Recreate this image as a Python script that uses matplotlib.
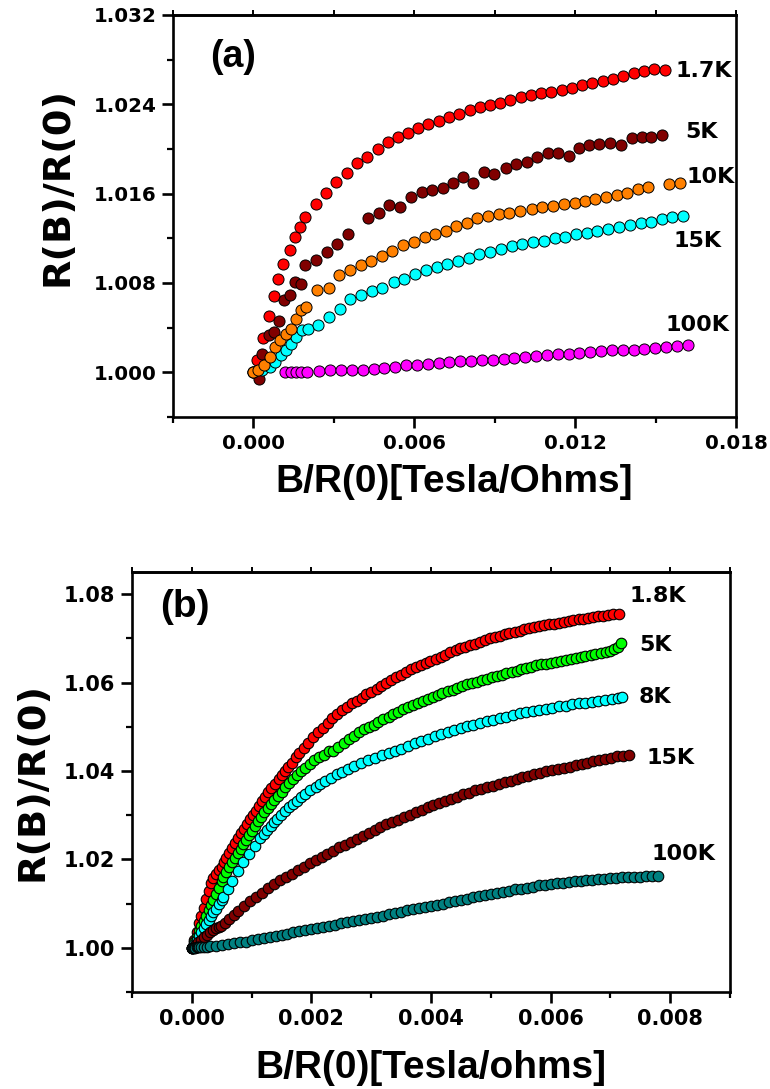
import matplotlib
matplotlib.use("Agg")
import matplotlib.pyplot as plt
from matplotlib.ticker import MultipleLocator, FixedLocator

plt.rcParams['font.family'] = ['Liberation Sans', 'DejaVu Sans']
plt.rcParams['font.weight'] = 'bold'
WIDE = ['DejaVu Sans']          # broad face used for numbers and the vertical titles
NARROW = ['Liberation Sans']    # Arial-like face for horizontal titles

# ---------------- panel (a): R(B)/R(0) vs B/R(0) ----------------
a_1p7K = [(0.0, 1.0000), (0.000136, 1.00108), (0.000364, 1.00311), (0.000564, 1.00502),
          (0.000749, 1.00682), (0.000934, 1.00837), (0.001106, 1.00969), (0.001362, 1.01100),
          (0.001533, 1.01208), (0.001747, 1.01298), (0.001905, 1.01387), (0.002318, 1.01507),
          (0.002703, 1.01608), (0.003074, 1.01707), (0.003473, 1.01788), (0.003858, 1.01871),
          (0.004243, 1.01931), (0.004628, 1.02003), (0.005028, 1.02066), (0.005399, 1.02111),
          (0.005784, 1.02147), (0.006140, 1.02191), (0.006525, 1.02224), (0.006910, 1.02254),
          (0.007295, 1.02290), (0.007680, 1.02314), (0.008065, 1.02350), (0.008436, 1.02374),
          (0.008807, 1.02395), (0.009206, 1.02416), (0.009577, 1.02440), (0.009962, 1.02463),
          (0.010347, 1.02484), (0.010732, 1.02499), (0.011117, 1.02514), (0.011502, 1.02529),
          (0.011873, 1.02550), (0.012258, 1.02574), (0.012629, 1.02595), (0.013029, 1.02613),
          (0.013414, 1.02631), (0.013799, 1.02655), (0.014184, 1.02679), (0.014555, 1.02700),
          (0.014940, 1.02715), (0.015339, 1.02709)]

a_5K = [(0.000222, 0.99943), (0.000322, 1.00161), (0.000578, 1.00332), (0.000749, 1.00362),
        (0.000963, 1.00460), (0.001134, 1.00652), (0.001362, 1.00691), (0.001533, 1.00810),
        (0.001790, 1.00789), (0.001933, 1.00960), (0.002318, 1.01005), (0.002746, 1.01079),
        (0.003131, 1.01148), (0.003530, 1.01238), (0.004286, 1.01378), (0.004671, 1.01423),
        (0.005070, 1.01498), (0.005484, 1.01483), (0.005883, 1.01572), (0.006283, 1.01617),
        (0.006668, 1.01632), (0.007053, 1.01647), (0.007438, 1.01698), (0.007809, 1.01752),
        (0.008208, 1.01692), (0.008593, 1.01794), (0.008978, 1.01776), (0.009406, 1.01833),
        (0.009806, 1.01865), (0.010191, 1.01886), (0.010590, 1.01931), (0.010989, 1.01967),
        (0.011374, 1.01961), (0.011759, 1.01937), (0.012130, 1.02006), (0.012515, 1.02033),
        (0.012900, 1.02045), (0.013300, 1.02057), (0.013728, 1.02036), (0.014113, 1.02102),
        (0.014483, 1.02105), (0.014840, 1.02111), (0.015225, 1.02126)]

a_10K = [(0.0, 1.0000), (0.000178, 1.00024), (0.000392, 1.00063), (0.000606, 1.00137),
         (0.000792, 1.00227), (0.000991, 1.00293), (0.001219, 1.00347), (0.001419, 1.00392),
         (0.001604, 1.00481), (0.001790, 1.00556), (0.001961, 1.00586), (0.002389, 1.00735),
         (0.002817, 1.00759), (0.003174, 1.00870), (0.003602, 1.00915), (0.004001, 1.00960),
         (0.004386, 1.00999), (0.004785, 1.01040), (0.005170, 1.01088), (0.005570, 1.01139),
         (0.005983, 1.01169), (0.006383, 1.01208), (0.006768, 1.01238), (0.007167, 1.01268),
         (0.007566, 1.01310), (0.007951, 1.01339), (0.008351, 1.01380), (0.008751, 1.01399),
         (0.009150, 1.01414), (0.009549, 1.01429), (0.009948, 1.01447), (0.010376, 1.01462),
         (0.010775, 1.01477), (0.011189, 1.01489), (0.011588, 1.01504), (0.011988, 1.01519),
         (0.012373, 1.01536), (0.012758, 1.01548), (0.013157, 1.01566), (0.013556, 1.01587),
         (0.013941, 1.01608), (0.014326, 1.01638), (0.014726, 1.01656), (0.015510, 1.01686),
         (0.015909, 1.01692)]

a_15K = [(0.0, 1.0000), (0.000321, 1.00018), (0.000606, 1.00048), (0.000820, 1.00093),
         (0.001034, 1.00152), (0.001220, 1.00197), (0.001419, 1.00257), (0.001605, 1.00317),
         (0.001819, 1.00377), (0.002033, 1.00392), (0.002418, 1.00422), (0.002817, 1.00496),
         (0.003216, 1.00571), (0.003601, 1.00655), (0.004029, 1.00691), (0.004428, 1.00729),
         (0.004814, 1.00759), (0.005242, 1.00810), (0.005627, 1.00840), (0.006026, 1.00879),
         (0.006426, 1.00915), (0.006839, 1.00945), (0.007238, 1.00969), (0.007638, 1.00996),
         (0.008023, 1.01028), (0.008422, 1.01058), (0.008807, 1.01079), (0.009235, 1.01103),
         (0.009634, 1.01130), (0.010019, 1.01148), (0.010419, 1.01166), (0.010832, 1.01178),
         (0.011232, 1.01199), (0.011631, 1.01214), (0.012045, 1.01235), (0.012444, 1.01250),
         (0.012829, 1.01265), (0.013228, 1.01283), (0.013627, 1.01304), (0.014041, 1.01319),
         (0.014440, 1.01333), (0.014825, 1.01348), (0.015225, 1.01369), (0.015624, 1.01387),
         (0.016009, 1.01399)]

a_100K = [(0.001177, 1.00000), (0.001391, 1.00000), (0.001605, 1.00000), (0.001790, 1.00000),
          (0.001990, 1.00003), (0.002432, 1.00012), (0.002860, 1.00018), (0.003273, 1.00018),
          (0.003673, 1.00024), (0.004072, 1.00024), (0.004485, 1.00033), (0.004885, 1.00042),
          (0.005284, 1.00048), (0.005698, 1.00063), (0.006097, 1.00069), (0.006496, 1.00078),
          (0.006910, 1.00084), (0.007309, 1.00093), (0.007709, 1.00099), (0.008122, 1.00099),
          (0.008522, 1.00108), (0.008921, 1.00114), (0.009335, 1.00123), (0.009734, 1.00129),
          (0.010133, 1.00137), (0.010547, 1.00143), (0.010946, 1.00152), (0.011346, 1.00161),
          (0.011759, 1.00167), (0.012158, 1.00173), (0.012558, 1.00182), (0.012971, 1.00188),
          (0.013371, 1.00197), (0.013770, 1.00203), (0.014184, 1.00203), (0.014583, 1.00212),
          (0.014982, 1.00221), (0.015396, 1.00227), (0.015795, 1.00233), (0.016195, 1.00242)]

a_series = [  # (label, data, face colour)
    ("1.7K", a_1p7K, "#FF0000"),
    ("5K", a_5K, "#800000"),
    ("15K", a_15K, "#00FFFF"),
    ("10K", a_10K, "#FF8000"),
    ("100K", a_100K, "#FF00FF"),
]
a_label_pos = {"1.7K": (0.01681, 1.02702), "5K": (0.01671, 1.02155), "10K": (0.01704, 1.01752),
               "15K": (0.01658, 1.01178), "100K": (0.01657, 1.00422)}

# ---------------- panel (b) ----------------
b_1p8K = [(0, 1.0), (0.00004, 1.0018), (0.00008, 1.0036), (0.00012, 1.0055), (0.00016, 1.0073),
          (0.0002, 1.0091), (0.00024, 1.011), (0.00028, 1.0128), (0.00032, 1.0146), (0.00036, 1.0158),
          (0.0004, 1.0168), (0.00045, 1.0175), (0.0005, 1.0182), (0.00054, 1.0193), (0.00058, 1.0203),
          (0.00063, 1.0214), (0.00068, 1.0225), (0.00073, 1.0237), (0.00078, 1.0248), (0.00083, 1.0259),
          (0.00088, 1.0269), (0.00093, 1.028), (0.00098, 1.0291), (0.00103, 1.0301), (0.00108, 1.031),
          (0.00113, 1.0321), (0.00118, 1.0331), (0.00123, 1.0342), (0.00128, 1.0352), (0.00133, 1.0361),
          (0.00139, 1.0371), (0.00145, 1.0381), (0.00151, 1.039), (0.00156, 1.0399), (0.00161, 1.0408),
          (0.00167, 1.0419), (0.00174, 1.0431), (0.0018, 1.044), (0.00187, 1.0452), (0.00195, 1.0464),
          (0.00203, 1.0476), (0.00211, 1.0487), (0.00219, 1.0498), (0.00227, 1.0509), (0.00235, 1.0519),
          (0.00243, 1.0529), (0.00251, 1.0537), (0.00259, 1.0545), (0.00268, 1.0553), (0.00276, 1.0559),
          (0.00284, 1.0566), (0.00292, 1.0573), (0.003, 1.0579), (0.00309, 1.0586), (0.00317, 1.0592),
          (0.00325, 1.0599), (0.00333, 1.0606), (0.00342, 1.0612), (0.0035, 1.0618), (0.00358, 1.0624),
          (0.00366, 1.063), (0.00375, 1.0635), (0.00383, 1.064), (0.00391, 1.0644), (0.00399, 1.0649),
          (0.00408, 1.0654), (0.00416, 1.0658), (0.00424, 1.0663), (0.00432, 1.0668), (0.00441, 1.0673),
          (0.00449, 1.0677), (0.00457, 1.0681), (0.00465, 1.0685), (0.00474, 1.0688), (0.00482, 1.0692),
          (0.0049, 1.0696), (0.00498, 1.07), (0.00507, 1.0703), (0.00515, 1.0706), (0.00523, 1.0709),
          (0.00531, 1.0712), (0.0054, 1.0714), (0.00548, 1.0717), (0.00556, 1.072), (0.00564, 1.0723),
          (0.00573, 1.0726), (0.00581, 1.0728), (0.00589, 1.073), (0.00597, 1.0732), (0.00606, 1.0733),
          (0.00614, 1.0735), (0.00622, 1.0737), (0.0063, 1.0739), (0.00638, 1.0741), (0.00647, 1.0743),
          (0.00655, 1.0744), (0.00663, 1.0746), (0.00671, 1.0748), (0.0068, 1.075), (0.00688, 1.0751),
          (0.00696, 1.0753), (0.00704, 1.0754), (0.00714, 1.0756)]

b_5K = [(0, 1.0), (0.00004, 1.0012), (0.00008, 1.0025), (0.00012, 1.0037), (0.00016, 1.0049),
        (0.0002, 1.0061), (0.00024, 1.0073), (0.00028, 1.0085), (0.00032, 1.0097), (0.00036, 1.0109),
        (0.0004, 1.0121), (0.00045, 1.0136), (0.0005, 1.015), (0.00053, 1.0161), (0.00058, 1.0172),
        (0.00062, 1.0182), (0.00067, 1.0193), (0.00072, 1.0203), (0.00077, 1.0214), (0.00082, 1.0223),
        (0.00086, 1.0234), (0.00091, 1.0244), (0.00096, 1.0255), (0.00101, 1.0265), (0.00106, 1.0276),
        (0.00111, 1.0286), (0.00116, 1.0296), (0.00121, 1.0307), (0.00127, 1.0316), (0.00132, 1.0325),
        (0.00138, 1.0335), (0.00144, 1.0344), (0.0015, 1.0353), (0.00156, 1.0363), (0.00162, 1.0373),
        (0.00169, 1.0382), (0.00176, 1.039), (0.00182, 1.0399), (0.00189, 1.0407), (0.00197, 1.0416),
        (0.00205, 1.0424), (0.00213, 1.0431), (0.00221, 1.0437), (0.0023, 1.0444), (0.00236, 1.0446),
        (0.00245, 1.0454), (0.00254, 1.0463), (0.00263, 1.0473), (0.00271, 1.048), (0.0028, 1.0487),
        (0.00288, 1.0494), (0.00296, 1.0499), (0.00304, 1.0505), (0.00312, 1.0511), (0.0032, 1.0518),
        (0.00329, 1.0523), (0.00337, 1.0528), (0.00345, 1.0534), (0.00353, 1.054), (0.00362, 1.0544),
        (0.0037, 1.0549), (0.00378, 1.0554), (0.00386, 1.0559), (0.00395, 1.0563), (0.00403, 1.0567),
        (0.00411, 1.0572), (0.00419, 1.0577), (0.00428, 1.0581), (0.00436, 1.0584), (0.00444, 1.0588),
        (0.00452, 1.0592), (0.0046, 1.0596), (0.00469, 1.0599), (0.00477, 1.0602), (0.00485, 1.0605),
        (0.00493, 1.0609), (0.00502, 1.0612), (0.0051, 1.0615), (0.00518, 1.0618), (0.00526, 1.0621),
        (0.00535, 1.0624), (0.00543, 1.0627), (0.00551, 1.063), (0.00559, 1.0633), (0.00568, 1.0636),
        (0.00576, 1.0639), (0.00584, 1.0641), (0.00592, 1.0643), (0.00601, 1.0645), (0.00609, 1.0647),
        (0.00617, 1.0649), (0.00625, 1.0652), (0.00634, 1.0654), (0.00642, 1.0656), (0.0065, 1.0658),
        (0.00658, 1.0659), (0.00667, 1.0662), (0.00675, 1.0664), (0.00684, 1.0667), (0.00692, 1.0669),
        (0.007, 1.0671), (0.00706, 1.0675), (0.00712, 1.068), (0.00718, 1.0689)]

b_8K = [(0, 1.0), (0.00004, 1.0009), (0.00008, 1.0018), (0.00012, 1.0027), (0.00016, 1.0036),
        (0.0002, 1.0045), (0.00024, 1.0054), (0.00028, 1.0062), (0.00032, 1.0071), (0.00036, 1.008),
        (0.0004, 1.0088), (0.00045, 1.0098), (0.0005, 1.0107), (0.00053, 1.0114), (0.0006, 1.0133),
        (0.00068, 1.0152), (0.00077, 1.0173), (0.00086, 1.0193), (0.00095, 1.0212), (0.00105, 1.0231),
        (0.00114, 1.0248), (0.0012, 1.0257), (0.00126, 1.0267), (0.00132, 1.0275), (0.00138, 1.0284),
        (0.00143, 1.0292), (0.00149, 1.0301), (0.00156, 1.0309), (0.00163, 1.0318), (0.00169, 1.0325),
        (0.00176, 1.0333), (0.00183, 1.0341), (0.0019, 1.0348), (0.00198, 1.0356), (0.00207, 1.0363),
        (0.00215, 1.037), (0.00223, 1.0377), (0.00232, 1.0384), (0.00242, 1.0392), (0.00252, 1.0398),
        (0.00261, 1.0405), (0.00272, 1.0411), (0.00283, 1.0418), (0.00294, 1.0424), (0.00306, 1.043),
        (0.00318, 1.0435), (0.00329, 1.044), (0.0034, 1.0446), (0.0035, 1.045), (0.00362, 1.0457),
        (0.00373, 1.0463), (0.00384, 1.0468), (0.00395, 1.0473), (0.00406, 1.0478), (0.00417, 1.0483),
        (0.00428, 1.0488), (0.00439, 1.0492), (0.0045, 1.0497), (0.0046, 1.0501), (0.00471, 1.0505),
        (0.00482, 1.0509), (0.00493, 1.0513), (0.00504, 1.0516), (0.00515, 1.052), (0.00526, 1.0523),
        (0.00537, 1.0526), (0.00548, 1.053), (0.00559, 1.0533), (0.0057, 1.0536), (0.00581, 1.0538),
        (0.00592, 1.0541), (0.00603, 1.0543), (0.00614, 1.0546), (0.00625, 1.0548), (0.00636, 1.0551),
        (0.00647, 1.0553), (0.00658, 1.0553), (0.00669, 1.0556), (0.0068, 1.0558), (0.00691, 1.056),
        (0.00702, 1.0562), (0.00712, 1.0564), (0.00719, 1.0567)]

b_15K = [(0, 1.0), (0.00005, 1.0006), (0.0001, 1.0012), (0.00015, 1.0018), (0.0002, 1.0024),
         (0.00025, 1.003), (0.0003, 1.0036), (0.00035, 1.0041), (0.0004, 1.0045), (0.00045, 1.0048),
         (0.00049, 1.005), (0.00055, 1.0057), (0.00062, 1.0065), (0.0007, 1.0074), (0.00078, 1.0084),
         (0.00088, 1.0095), (0.00098, 1.0106), (0.00108, 1.0116), (0.00118, 1.0125), (0.00128, 1.0135),
         (0.00138, 1.0144), (0.00147, 1.0153), (0.00157, 1.0161), (0.00167, 1.0168), (0.00177, 1.0176),
         (0.00187, 1.0183), (0.00197, 1.0191), (0.00207, 1.0198), (0.00217, 1.0206), (0.00226, 1.0213),
         (0.00236, 1.022), (0.00246, 1.0227), (0.00256, 1.0233), (0.00266, 1.024), (0.00276, 1.0246),
         (0.00286, 1.0252), (0.00296, 1.0259), (0.00306, 1.0266), (0.00315, 1.0273), (0.00325, 1.0279),
         (0.00335, 1.0284), (0.00345, 1.029), (0.00355, 1.0295), (0.00365, 1.0301), (0.00375, 1.0307),
         (0.00385, 1.0312), (0.00395, 1.0318), (0.00404, 1.0322), (0.00414, 1.0327), (0.00424, 1.0332),
         (0.00434, 1.0337), (0.00444, 1.0342), (0.00454, 1.0347), (0.00464, 1.0351), (0.00474, 1.0356),
         (0.00483, 1.036), (0.00493, 1.0363), (0.00503, 1.0367), (0.00513, 1.0371), (0.00523, 1.0375),
         (0.00533, 1.0378), (0.00543, 1.0382), (0.00553, 1.0386), (0.00563, 1.0389), (0.00573, 1.0392),
         (0.00582, 1.0396), (0.00592, 1.0399), (0.00602, 1.0402), (0.00612, 1.0405), (0.00622, 1.0407),
         (0.00632, 1.041), (0.00642, 1.0413), (0.00652, 1.0416), (0.00661, 1.0419), (0.00671, 1.0422),
         (0.00681, 1.0425), (0.00691, 1.0427), (0.00701, 1.043), (0.00711, 1.0433), (0.00721, 1.0434),
         (0.00731, 1.0435)]

b_100K = [(0, 1.0), (0.00002, 1.0), (0.00004, 1.0), (0.00006, 1.0), (0.00008, 1.0001), (0.0001, 1.0001),
          (0.00012, 1.0001), (0.00015, 1.0001), (0.0002, 1.0002), (0.00025, 1.0002), (0.0003, 1.0003),
          (0.0004, 1.0005), (0.0005, 1.0007), (0.0006, 1.0008), (0.0007, 1.001), (0.0008, 1.0012),
          (0.0009, 1.0014), (0.001, 1.0017), (0.0011, 1.0019), (0.0012, 1.0022), (0.0013, 1.0025),
          (0.0014, 1.0027), (0.0015, 1.0029), (0.0016, 1.0032), (0.0017, 1.0035), (0.0018, 1.0037),
          (0.0019, 1.004), (0.002, 1.0042), (0.0021, 1.0045), (0.0022, 1.0047), (0.0023, 1.005),
          (0.0024, 1.0052), (0.0025, 1.0055), (0.0026, 1.0058), (0.0027, 1.0061), (0.0028, 1.0063),
          (0.0029, 1.0065), (0.003, 1.0068), (0.0031, 1.007), (0.0032, 1.0073), (0.0033, 1.0076),
          (0.0034, 1.0079), (0.0035, 1.0082), (0.0036, 1.0085), (0.0037, 1.0087), (0.0038, 1.009),
          (0.0039, 1.0093), (0.004, 1.0095), (0.0041, 1.0097), (0.0042, 1.01), (0.0043, 1.0103),
          (0.0044, 1.0105), (0.0045, 1.0108), (0.0046, 1.0111), (0.0047, 1.0114), (0.0048, 1.0117),
          (0.0049, 1.0119), (0.005, 1.0122), (0.0051, 1.0125), (0.0052, 1.0127), (0.0053, 1.0129),
          (0.0054, 1.0132), (0.0055, 1.0134), (0.0056, 1.0136), (0.0057, 1.0138), (0.0058, 1.0141),
          (0.0059, 1.0143), (0.006, 1.0145), (0.0061, 1.0146), (0.0062, 1.0147), (0.0063, 1.0148),
          (0.0064, 1.015), (0.0065, 1.0152), (0.0066, 1.0153), (0.0067, 1.0153), (0.0068, 1.0155),
          (0.0069, 1.0156), (0.007, 1.0157), (0.0071, 1.0157), (0.0072, 1.0159), (0.0073, 1.0159),
          (0.0074, 1.016), (0.0075, 1.0161), (0.0076, 1.0162), (0.0077, 1.0162), (0.0078, 1.0163)]

b_series = [
    ("1.8K", b_1p8K, "#FF0000"),
    ("5K", b_5K, "#00FF00"),
    ("8K", b_8K, "#00FFFF"),
    ("15K", b_15K, "#800000"),
    ("100K", b_100K, "#008080"),
]
b_label_pos = {"1.8K": (0.0078, 1.0796), "5K": (0.00775, 1.0686), "8K": (0.00775, 1.0567),
               "15K": (0.0080, 1.0430), "100K": (0.00822, 1.0212)}

a_xticks = [0.000, 0.006, 0.012, 0.018]
a_yticks = [1.000, 1.008, 1.016, 1.024, 1.032]
b_xticks = [0.000, 0.002, 0.004, 0.006, 0.008]
b_yticks = [1.00, 1.02, 1.04, 1.06, 1.08]

W, H = 770, 1089
fig = plt.figure(figsize=(W / 100, H / 100), dpi=100)


def frame(ax, xmaj, xmin, ymaj, ymin, xfmt, yfmt, lsize):
    for s in ax.spines.values():
        s.set_linewidth(1.9)
    ax.xaxis.set_major_locator(FixedLocator(xmaj))
    ax.xaxis.set_minor_locator(MultipleLocator(xmin))
    ax.yaxis.set_major_locator(FixedLocator(ymaj))
    ax.yaxis.set_minor_locator(MultipleLocator(ymin))
    ax.set_xticklabels([xfmt.format(v) for v in xmaj], family=WIDE, fontweight='bold')
    ax.set_yticklabels([yfmt.format(v) for v in ymaj], family=WIDE, fontweight='bold')
    ax.tick_params(which='major', direction='out', length=8, width=1.9,
                   labelsize=lsize, top=False, right=False, pad=4)
    ax.tick_params(which='minor', direction='out', length=4, width=1.6,
                   top=False, right=False)
    # short unlabelled marks along the top edge
    top = ax.secondary_xaxis('top')
    top.xaxis.set_major_locator(MultipleLocator(xmin))
    top.tick_params(which='major', direction='out', length=3.5, width=1.4,
                    labeltop=False)
    top.tick_params(which='minor', length=0)
    top.spines['top'].set_linewidth(1.9)


def draw_panel(ax, series, ms, mew):
    for name, pts, col in series:
        xs = [p[0] for p in pts]
        ys = [p[1] for p in pts]
        ax.plot(xs, ys, ls='none', marker='o', ms=ms, mfc=col, mec='black', mew=mew)


# ---- panel (a)
ax1 = fig.add_axes([173 / W, 1 - 417 / H, 563 / W, 402 / H])
draw_panel(ax1, a_series, 8.0, 0.7)
ax1.set_xlim(-0.003, 0.018)
ax1.set_ylim(0.996, 1.032)
frame(ax1, a_xticks, 0.003, a_yticks, 0.004, "{:.3f}", "{:.3f}", 14.3)
for name, (tx, ty) in a_label_pos.items():
    ax1.text(tx, ty, name, ha='center', va='center', fontsize=16, fontweight='bold',
             family=WIDE)
ax1.text(0.106, 0.895, "(a)", transform=ax1.transAxes, ha='center', va='center',
         fontsize=27, fontweight='bold', family=NARROW)
ax1.set_xlabel("B/R(0)[Tesla/Ohms]", fontsize=28, fontweight='bold', family=NARROW)
ax1.xaxis.set_label_coords(0.5, -0.1617)
ax1.xaxis.label.set_va('center')
ax1.set_ylabel("R(B)/R(0)", fontsize=27.5, fontweight='bold', family=WIDE)
ax1.yaxis.set_label_coords(-0.206, 0.5746)
ax1.yaxis.label.set_va('center')

# ---- panel (b)
ax2 = fig.add_axes([132 / W, 1 - 992 / H, 598 / W, 420 / H])
draw_panel(ax2, b_series, 7.6, 0.8)
ax2.set_xlim(-0.001, 0.009)
ax2.set_ylim(0.99, 1.085)
frame(ax2, b_xticks, 0.001, b_yticks, 0.01, "{:.3f}", "{:.2f}", 15)
for name, (tx, ty) in b_label_pos.items():
    ax2.text(tx, ty, name, ha='center', va='center', fontsize=16, fontweight='bold',
             family=WIDE)
ax2.text(0.0886, 0.917, "(b)", transform=ax2.transAxes, ha='center', va='center',
         fontsize=28, fontweight='bold', family=NARROW)
ax2.set_xlabel("B/R(0)[Tesla/ohms]", fontsize=28, fontweight='bold', family=NARROW)
ax2.xaxis.set_label_coords(0.5, -0.181)
ax2.xaxis.label.set_va('center')
ax2.set_ylabel("R(B)/R(0)", fontsize=27.5, fontweight='bold', family=WIDE)
ax2.yaxis.set_label_coords(-0.1656, 0.5)
ax2.yaxis.label.set_va('center')

fig.savefig("out.png", dpi=100)
